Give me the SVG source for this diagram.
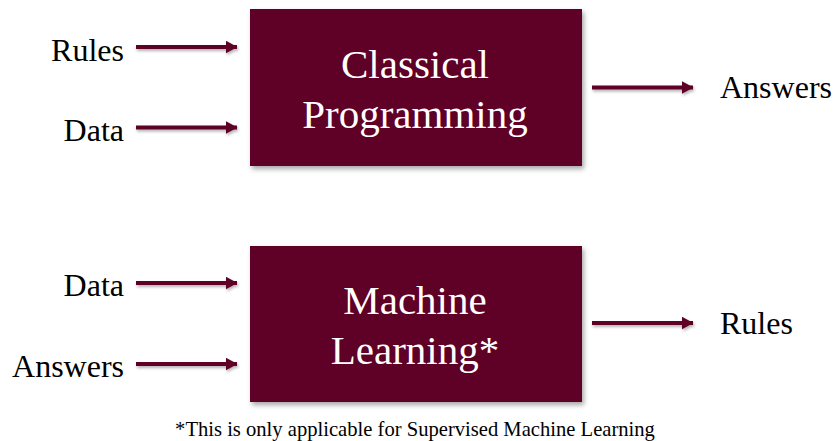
<svg xmlns="http://www.w3.org/2000/svg" width="836" height="441" viewBox="0 0 836 441">
  <style>
    .box { fill: #5e0026; filter: url(#shadow); }
    .box-text { font-family: "Liberation Serif", "Times New Roman", serif; font-size: 41px; fill: #ffffff; text-anchor: middle; }
    .label { font-family: "Liberation Serif", "Times New Roman", serif; font-size: 32px; fill: #000000; }
    .left { text-anchor: end; }
    .note { font-family: "Liberation Serif", "Times New Roman", serif; font-size: 20.6px; fill: #000000; text-anchor: middle; }
    .arrow { stroke: #5e0026; stroke-width: 4; fill: none; marker-end: url(#head); }
  </style>
  <defs>
    <filter id="shadow" x="-5%" y="-5%" width="115%" height="120%">
      <feDropShadow dx="2" dy="3" stdDeviation="2.5" flood-color="#000" flood-opacity="0.35"/>
    </filter>
    <filter id="shadow-sm" filterUnits="userSpaceOnUse" x="0" y="0" width="836" height="441">
      <feDropShadow dx="1" dy="2" stdDeviation="1.5" flood-color="#000" flood-opacity="0.3"/>
    </filter>
    <marker id="head" viewBox="0 0 12 13" refX="11.5" refY="6.5" markerWidth="12" markerHeight="13" markerUnits="userSpaceOnUse" orient="auto">
      <path d="M0,0 L12,6.5 L0,13 Z" fill="#5e0026"/>
    </marker>
  </defs>

  <!-- Classical programming block -->
  <g id="classical">
    <rect class="box" x="250" y="9" width="332" height="157"/>
    <text class="box-text" x="415" y="78">Classical</text>
    <text class="box-text" x="415" y="128">Programming</text>
  </g>

  <!-- Machine learning block -->
  <g id="machine-learning">
    <rect class="box" x="250" y="246" width="332" height="156"/>
    <text class="box-text" x="415" y="314">Machine</text>
    <text class="box-text" x="415" y="364">Learning*</text>
  </g>

  <!-- Inputs and outputs -->
  <g id="in-rules-1"><text class="label left" x="124" y="61">Rules</text></g>
  <g id="in-data-1"><text class="label left" x="124" y="141">Data</text></g>
  <g id="out-answers-1"><text class="label" x="720" y="98">Answers</text></g>
  <g id="in-data-2"><text class="label left" x="124" y="296">Data</text></g>
  <g id="in-answers-2"><text class="label left" x="124" y="377">Answers</text></g>
  <g id="out-rules-2"><text class="label" x="720" y="334">Rules</text></g>

  <!-- Connectors -->
  <g id="connectors" filter="url(#shadow-sm)">
    <line class="arrow" x1="136" y1="47" x2="237" y2="47"/>
    <line class="arrow" x1="136" y1="127.5" x2="237" y2="127.5"/>
    <line class="arrow" x1="592" y1="87.5" x2="693" y2="87.5"/>
    <line class="arrow" x1="136" y1="283" x2="237" y2="283"/>
    <line class="arrow" x1="136" y1="364" x2="237" y2="364"/>
    <line class="arrow" x1="592" y1="323" x2="693" y2="323"/>
  </g>

  <g id="footnote">
    <text class="note" x="415" y="436">*This is only applicable for Supervised Machine Learning</text>
  </g>
</svg>
